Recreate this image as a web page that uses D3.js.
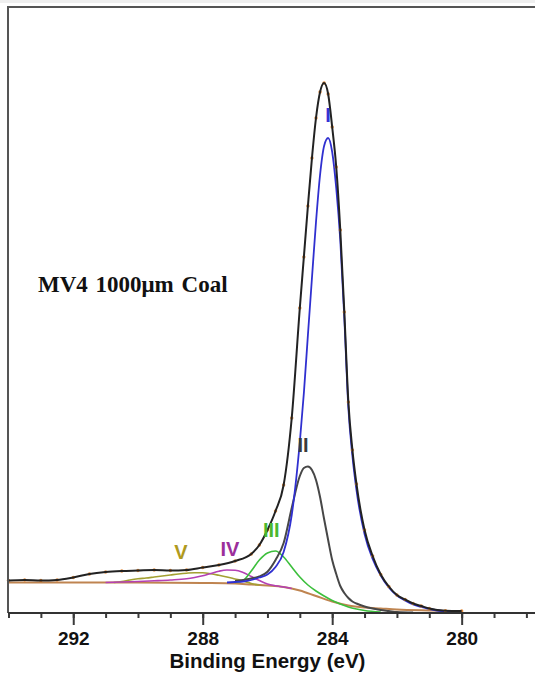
<!DOCTYPE html>
<html>
<head>
<meta charset="utf-8">
<script src="https://cdn.jsdelivr.net/npm/d3@7"></script>
<style>
  body { margin: 0; background: #fff; }
  svg { display: block; }
  .axis .tick text { font-family: "Liberation Sans", Arial, sans-serif; font-weight: bold; font-size: 19px; fill: #111; }
  .axis .tick line { stroke: #3a3a3a; stroke-width: 2; }
</style>
</head>
<body>
<svg id="chart"></svg>
<script>
// C 1s fit, MV4 1000um coal. Energies in eV, intensities in counts (arbitrary)
var envelopeEnergy = [294, 293.5, 293, 292.5, 292, 291.5, 291, 290.5, 290, 289.5, 289, 288.5, 288, 287.5, 287,
    286.5, 286.25, 286, 285.75, 285.5, 285.25, 285, 284.875, 284.75, 284.625, 284.5, 284.375, 284.25, 284.125,
    284, 283.875, 283.75, 283.625, 283.5, 283.375, 283.25, 283, 282.75, 282.5, 282.25, 282, 281.75, 281.5,
    281.25, 281, 280.5, 280];
var envelopeCounts = [325, 330, 325, 330, 355, 390, 410, 420, 425, 430, 425, 430, 455, 480, 520,
    590, 680, 830, 1020, 1280, 1950, 3050, 3560, 4070, 4550, 4950, 5210, 5300, 5190,
    4860, 4460, 3830, 3010, 2110, 1630, 1290, 830, 570, 385, 265, 180, 135, 95,
    70, 45, 23, 20];

var peak1Energy = [287.25, 287, 286.75, 286.5, 286.25, 286, 285.75, 285.5, 285.25, 285, 284.875, 284.75, 284.625,
    284.5, 284.375, 284.25, 284.125, 284, 283.875, 283.75, 283.625, 283.5, 283.375, 283.25, 283, 282.75, 282.5,
    282.25, 282, 281.75, 281.5, 281.25, 281, 280.5, 280];
var peak1Counts = [305, 310, 315, 330, 355, 385, 460, 610, 980, 1710, 2200, 2780, 3350,
    3910, 4380, 4670, 4750, 4610, 4250, 3730, 2950, 2050, 1570, 1230, 790, 540, 375,
    255, 175, 125, 85, 60, 40, 15, 5];

var peak2Energy = [287, 286.75, 286.5, 286.25, 286, 285.75, 285.5, 285.25, 285, 284.875, 284.75, 284.625, 284.5,
    284.375, 284.25, 284.125, 284, 283.875, 283.75, 283.625, 283.5, 283.375, 283.25, 283, 282.75, 282.5,
    282.25, 282, 281.5];
var peak2Counts = [320, 330, 345, 365, 413, 530, 700, 1050, 1370, 1450, 1465, 1430, 1330,
    1160, 940, 730, 530, 390, 270, 200, 150, 115, 95, 65, 45, 30,
    20, 10, 5];

var peak3Energy = [287, 286.75, 286.5, 286.25, 286, 285.75, 285.5, 285.25, 285, 284.75, 284.5, 284.25, 284,
    283.75, 283.5, 283.25, 283, 282.5];
var peak3Counts = [305, 325, 420, 530, 600, 620, 560, 460, 360, 280, 220, 170, 125,
    90, 60, 40, 25, 10];

var peak4Energy = [291, 290.5, 290, 289.5, 289, 288.5, 288.25, 288, 287.75, 287.5, 287.25, 287, 286.75,
    286.5, 286.25, 286, 285.75, 285.5, 285.25];
var peak4Counts = [305, 310, 315, 322, 330, 342, 355, 372, 395, 418, 430, 428, 405,
    365, 325, 290, 272, 260, 245];

var peak5Energy = [290.75, 290.5, 290.25, 290, 289.75, 289.5, 289.25, 289, 288.75, 288.5, 288.25, 288, 287.75,
    287.5, 287.25, 287, 286.75, 286.5, 286.25];
var peak5Counts = [305, 315, 330, 342, 350, 360, 370, 380, 390, 398, 403, 402, 392,
    377, 360, 340, 320, 295, 280];

var backgroundEnergy = [294, 292, 290, 288, 287, 286.5, 286, 285.5, 285, 284.5, 284, 283.5, 283, 282.5, 282, 281, 280.5, 280];
var backgroundCounts = [305, 305, 305, 300, 295, 285, 275, 260, 225, 170, 115, 75, 55, 45, 35, 25, 21, 20];

var peakLabels = ["I", "II", "III", "IV", "V"];
var labelEnergy = [284.13, 284.90, 285.88, 287.16, 288.67];
var labelCounts = [4910, 1610, 760, 570, 540];

var majorTicks = [292, 288, 284, 280];
var minorTicks = d3.range(278, 295);

var width = 535, height = 675;
var plotLeft = 8, plotTop = 7, plotBottom = 613;

var svg = d3.select("#chart")
    .attr("width", width)
    .attr("height", height);

var x = d3.scaleLinear()
    .domain([294, 278])
    .range([8.5, 526.4]);
var y = d3.scaleLinear()
    .domain([0, 6060])
    .range([plotBottom, plotTop]);

// thin grey strip at the very top of the screenshot
svg.append("rect")
    .attr("x", 0).attr("y", 0)
    .attr("width", width).attr("height", 3)
    .attr("fill", "#efefef");

var line = d3.line()
    .x(function(d) { return x(d[0]); })
    .y(function(d) { return y(d[1]); })
    .curve(d3.curveMonotoneX);

var series = [
    {e: backgroundEnergy, c: backgroundCounts, color: "#bf8450", w: 2},
    {e: peak5Energy, c: peak5Counts, color: "#a3a032", w: 1.6},
    {e: peak4Energy, c: peak4Counts, color: "#b440b4", w: 1.6},
    {e: peak3Energy, c: peak3Counts, color: "#3cbf3c", w: 1.6},
    {e: peak2Energy, c: peak2Counts, color: "#474747", w: 2},
    {e: peak1Energy, c: peak1Counts, color: "#3030d0", w: 1.8}
];

svg.selectAll("path.component")
    .data(series)
    .enter().append("path")
        .attr("class", "component")
        .attr("d", function(s) { return line(d3.zip(s.e, s.c)); })
        .attr("fill", "none")
        .attr("stroke", function(s) { return s.color; })
        .attr("stroke-width", function(s) { return s.w; });

var envelope = d3.zip(envelopeEnergy, envelopeCounts);

// raw data points (orange) under the envelope
svg.selectAll("circle.raw")
    .data(envelope)
    .enter().append("circle")
        .attr("class", "raw")
        .attr("cx", function(d) { return x(d[0]); })
        .attr("cy", function(d) { return y(d[1]); })
        .attr("r", 1.7)
        .attr("fill", "#e0893a");

svg.append("path")
    .attr("d", line(envelope))
    .attr("fill", "none")
    .attr("stroke", "#222")
    .attr("stroke-width", 2);

// frame
svg.append("path")
    .attr("d", "M" + plotLeft + "," + plotBottom + "V" + plotTop + "H" + width)
    .attr("fill", "none")
    .attr("stroke", "#555")
    .attr("stroke-width", 2);

// x axis
var minorAxis = d3.axisBottom(x).tickValues(minorTicks).tickSize(5).tickFormat("");
var majorAxis = d3.axisBottom(x).tickValues(majorTicks).tickSize(12).tickPadding(7).tickFormat(d3.format("d"));

svg.append("g")
    .attr("class", "axis")
    .attr("transform", "translate(0," + plotBottom + ")")
    .call(minorAxis)
    .call(function(g) { g.select(".domain").remove(); });
svg.append("g")
    .attr("class", "axis")
    .attr("transform", "translate(0," + plotBottom + ")")
    .call(majorAxis)
    .call(function(g) { g.select(".domain").remove(); });

svg.append("line")
    .attr("x1", plotLeft).attr("x2", width)
    .attr("y1", plotBottom).attr("y2", plotBottom)
    .attr("stroke", "#333")
    .attr("stroke-width", 2);

svg.append("text")
    .attr("x", width / 2)
    .attr("y", 668)
    .attr("text-anchor", "middle")
    .style("font-family", "Liberation Sans, Arial, sans-serif")
    .style("font-weight", "bold")
    .style("font-size", "20.5px")
    .attr("fill", "#111")
    .text("Binding Energy (eV)");

// sample name
svg.append("text")
    .attr("x", 38)
    .attr("y", 292)
    .style("font-family", "Liberation Serif, Times New Roman, serif")
    .style("font-weight", "bold")
    .style("font-size", "23px")
    .style("word-spacing", "2px")
    .attr("fill", "#111")
    .text("MV4 1000μm Coal");

// peak labels
var labelColors = ["#3333d4", "#3a3a3a", "#4cb82e", "#9b2f9b", "#b09a1e"];
svg.selectAll("text.peak")
    .data(peakLabels)
    .enter().append("text")
        .attr("class", "peak")
        .attr("x", function(d, i) { return x(labelEnergy[i]); })
        .attr("y", function(d, i) { return y(labelCounts[i]); })
        .attr("text-anchor", "middle")
        .style("font-family", "Liberation Sans, Arial, sans-serif")
        .style("font-weight", "bold")
        .style("font-size", "20px")
        .attr("fill", function(d, i) { return labelColors[i]; })
        .text(function(d) { return d; });
</script>
</body>
</html>
